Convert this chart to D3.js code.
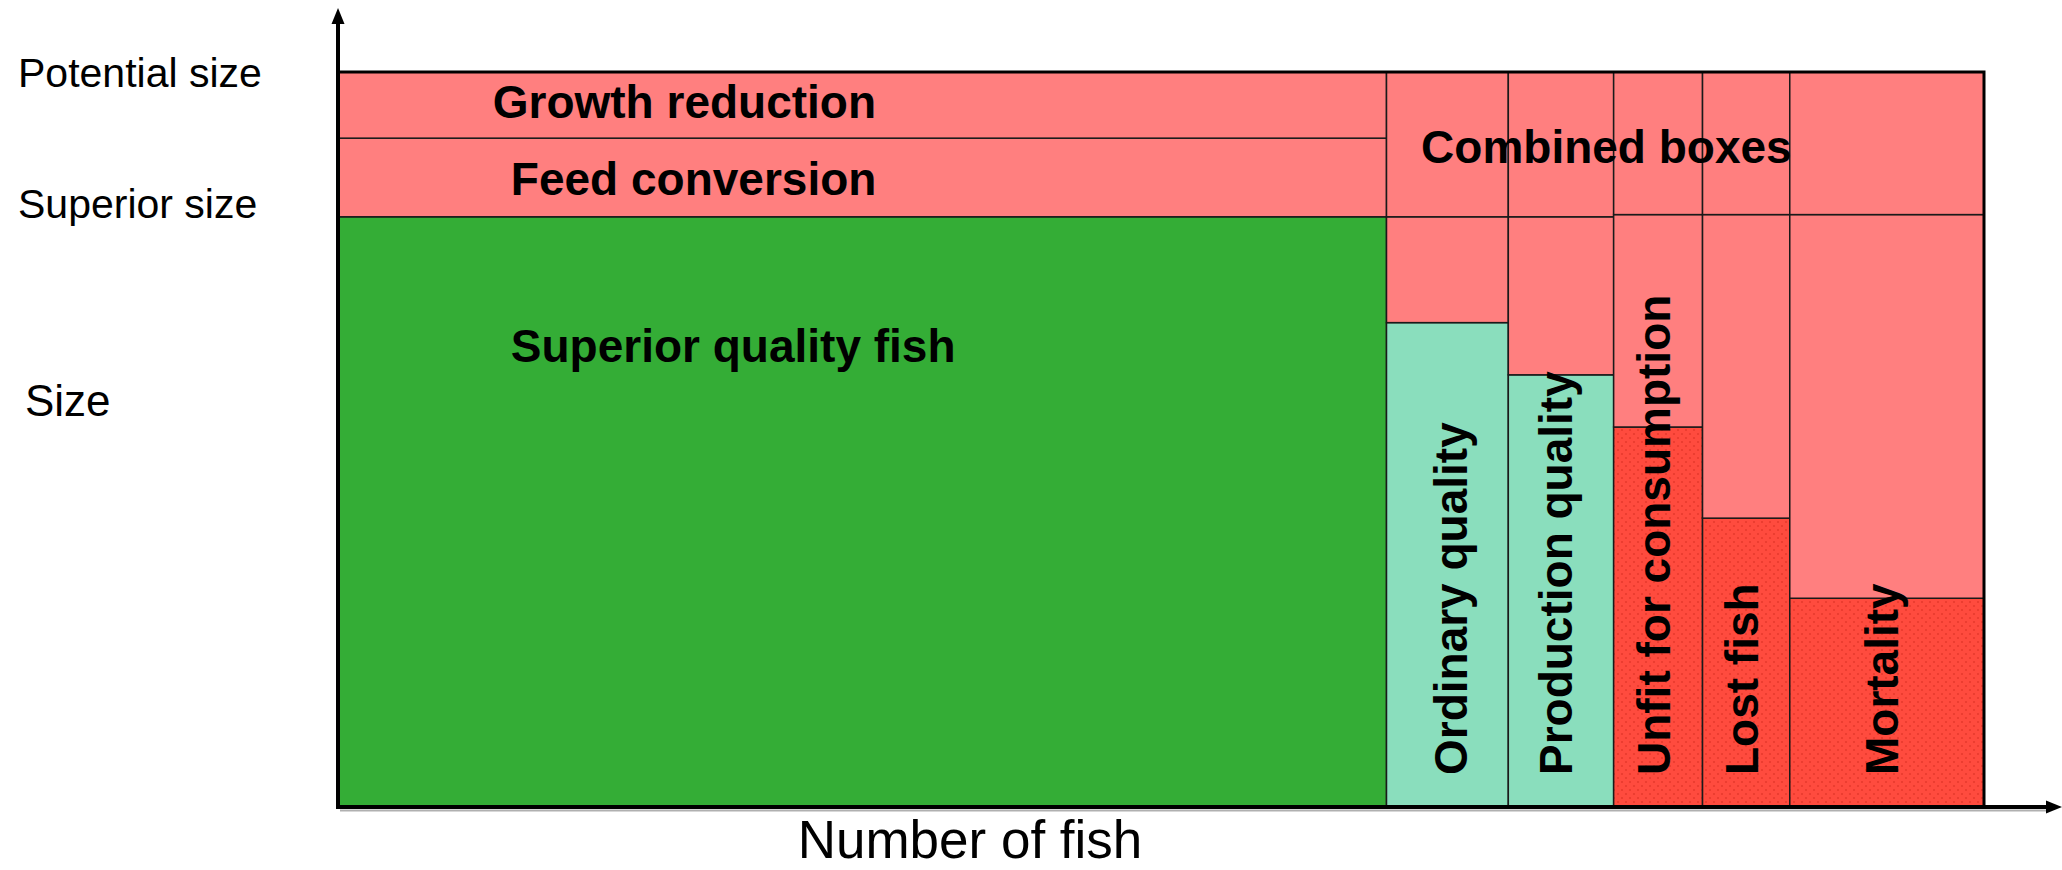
<!DOCTYPE html>
<html>
<head>
<meta charset="utf-8">
<script src="https://cdn.jsdelivr.net/npm/d3@7/dist/d3.min.js"></script>
<style>
  html, body { margin: 0; padding: 0; background: #ffffff; }
  svg { display: block; font-family: "Liberation Sans", Arial, sans-serif; }
</style>
</head>
<body>
<svg id="chart" width="2062" height="870"></svg>
<script>
// ---------------- data ----------------
const categories    = ["Superior quality fish", "Ordinary quality", "Production quality",
                       "Unfit for consumption", "Lost fish", "Mortality"];
const fishCounts    = [63.7, 7.4, 6.4, 5.4, 5.3, 11.8];      // share of number of fish
const achievedSize  = [80.3, 65.9, 58.8, 51.7, 39.3, 28.4];  // size reached by each group
const qualityClass  = ["superior", "ordinary", "ordinary", "loss", "loss", "loss"];
const combinedFloor = [80.3, 80.3, 80.3, 80.6, 80.6, 80.6];  // lower edge of the combined boxes
const potentialSize = 100;
const superiorSize  = 80.3;
const feedConversionLevel = 91.0;
const yTickLabels = ["Potential size", "Superior size"];
const yTickValues = [potentialSize, superiorSize];

// ---------------- setup ----------------
const svg = d3.select("#chart");
const x = d3.scaleLinear().domain([0, 100]).range([338, 1984]);
const y = d3.scaleLinear().domain([0, 100]).range([807, 72]);

const fills = { superior: "#34ad36", ordinary: "#8adebd", pink: "#ff7f7f", loss: "url(#dots)" };

const defs = svg.append("defs");
const pat = defs.append("pattern").attr("id", "dots").attr("patternUnits", "userSpaceOnUse")
  .attr("width", 8).attr("height", 8);
pat.append("rect").attr("width", 8).attr("height", 8).attr("fill", "#ff4b3e");
pat.append("circle").attr("cx", 2).attr("cy", 2).attr("r", 1.1).attr("fill", "#e8392c");
pat.append("circle").attr("cx", 6).attr("cy", 6).attr("r", 1.1).attr("fill", "#e8392c");

// cumulative layout
let acc = 0;
const cols = categories.map((c, i) => {
  const x0 = acc; acc += fishCounts[i];
  return { name: c, x0, x1: acc, size: achievedSize[i], cls: qualityClass[i], floor: combinedFloor[i] };
});

const boxes = [];
cols.forEach((c, i) => {
  boxes.push({ x0: c.x0, x1: c.x1, y0: 0, y1: c.size, fill: fills[c.cls] });
  if (i === 0) {
    boxes.push({ x0: c.x0, x1: c.x1, y0: superiorSize, y1: feedConversionLevel, fill: fills.pink });
    boxes.push({ x0: c.x0, x1: c.x1, y0: feedConversionLevel, y1: potentialSize, fill: fills.pink });
  } else {
    boxes.push({ x0: c.x0, x1: c.x1, y0: c.size, y1: c.floor, fill: fills.pink });
    boxes.push({ x0: c.x0, x1: c.x1, y0: c.floor, y1: potentialSize, fill: fills.pink });
  }
});

svg.append("g").selectAll("rect").data(boxes).join("rect")
  .attr("x", d => x(d.x0)).attr("width", d => x(d.x1) - x(d.x0))
  .attr("y", d => y(d.y1)).attr("height", d => y(d.y0) - y(d.y1))
  .attr("fill", d => d.fill)
  .attr("stroke", "#1a1a1a").attr("stroke-width", 1.5);

// outer frame (top and right heavier)
svg.append("path")
  .attr("d", `M${x(0)},${y(potentialSize)}H${x(100)}V${y(0)}`)
  .attr("fill", "none").attr("stroke", "#000").attr("stroke-width", 3);

// ---------------- axes with arrows ----------------
svg.append("line").attr("x1", x(0) + 2).attr("x2", 2050).attr("y1", y(0) + 3.5).attr("y2", y(0) + 3.5)
  .attr("stroke", "#b0b0b0").attr("stroke-width", 2);
svg.append("line").attr("x1", x(0)).attr("x2", x(0)).attr("y1", y(0)).attr("y2", 20)
  .attr("stroke", "#000").attr("stroke-width", 4);
svg.append("line").attr("x1", x(0) - 2).attr("x2", 2050).attr("y1", y(0)).attr("y2", y(0))
  .attr("stroke", "#000").attr("stroke-width", 4);
svg.append("path").attr("d", `M${x(0)},8 L${x(0) - 6.5},24 L${x(0) + 6.5},24 Z`).attr("fill", "#000");
svg.append("path").attr("d", `M2062,${y(0)} L2046,${y(0) - 6.5} L2046,${y(0) + 6.5} Z`).attr("fill", "#000");

// y tick labels via d3 axis
const yAxis = svg.append("g").attr("transform", "translate(18,0)")
  .call(d3.axisLeft(y).tickValues(yTickValues).tickFormat((d, i) => yTickLabels[i]).tickSize(0));
yAxis.select(".domain").remove();
yAxis.selectAll("text")
  .attr("x", 0).attr("text-anchor", "start")
  .attr("dy", (d, i) => i === 0 ? "0.35em" : "0.02em")
  .attr("font-size", 41).attr("font-family", "Liberation Sans, Arial, sans-serif").attr("fill", "#000");

// axis titles
svg.append("text").attr("x", 25).attr("y", 416).attr("font-size", 44).text("Size");
svg.append("text").attr("x", 970).attr("y", 858).attr("text-anchor", "middle").attr("font-size", 53)
  .text("Number of fish");

// ---------------- box labels ----------------
const boldLabels = [
  { text: "Growth reduction", x: 9.4,  y: 93.7 },
  { text: "Feed conversion", x: 10.5, y: 83.2 },
  { text: "Superior quality fish", x: 10.5, y: 60.5 },
  { text: "Combined boxes", x: 65.8, y: 87.6 }
];
svg.append("g").selectAll("text").data(boldLabels).join("text")
  .attr("x", d => x(d.x)).attr("y", d => y(d.y))
  .attr("font-size", 46).attr("font-weight", "bold").text(d => d.text);

const labelShift = [0, 0.5, 0, 0, 0, 0]; // small horizontal offsets of the vertical labels (fish units)
svg.append("g").selectAll("text").data(cols.slice(1)).join("text")
  .attr("transform", (d, i) => `translate(${x((d.x0 + d.x1) / 2 + labelShift[i + 1])},${y(4.35)}) rotate(-90)`)
  .attr("dy", "0.25em")
  .attr("font-size", 46).attr("font-weight", "bold").text(d => d.name);
</script>
</body>
</html>
